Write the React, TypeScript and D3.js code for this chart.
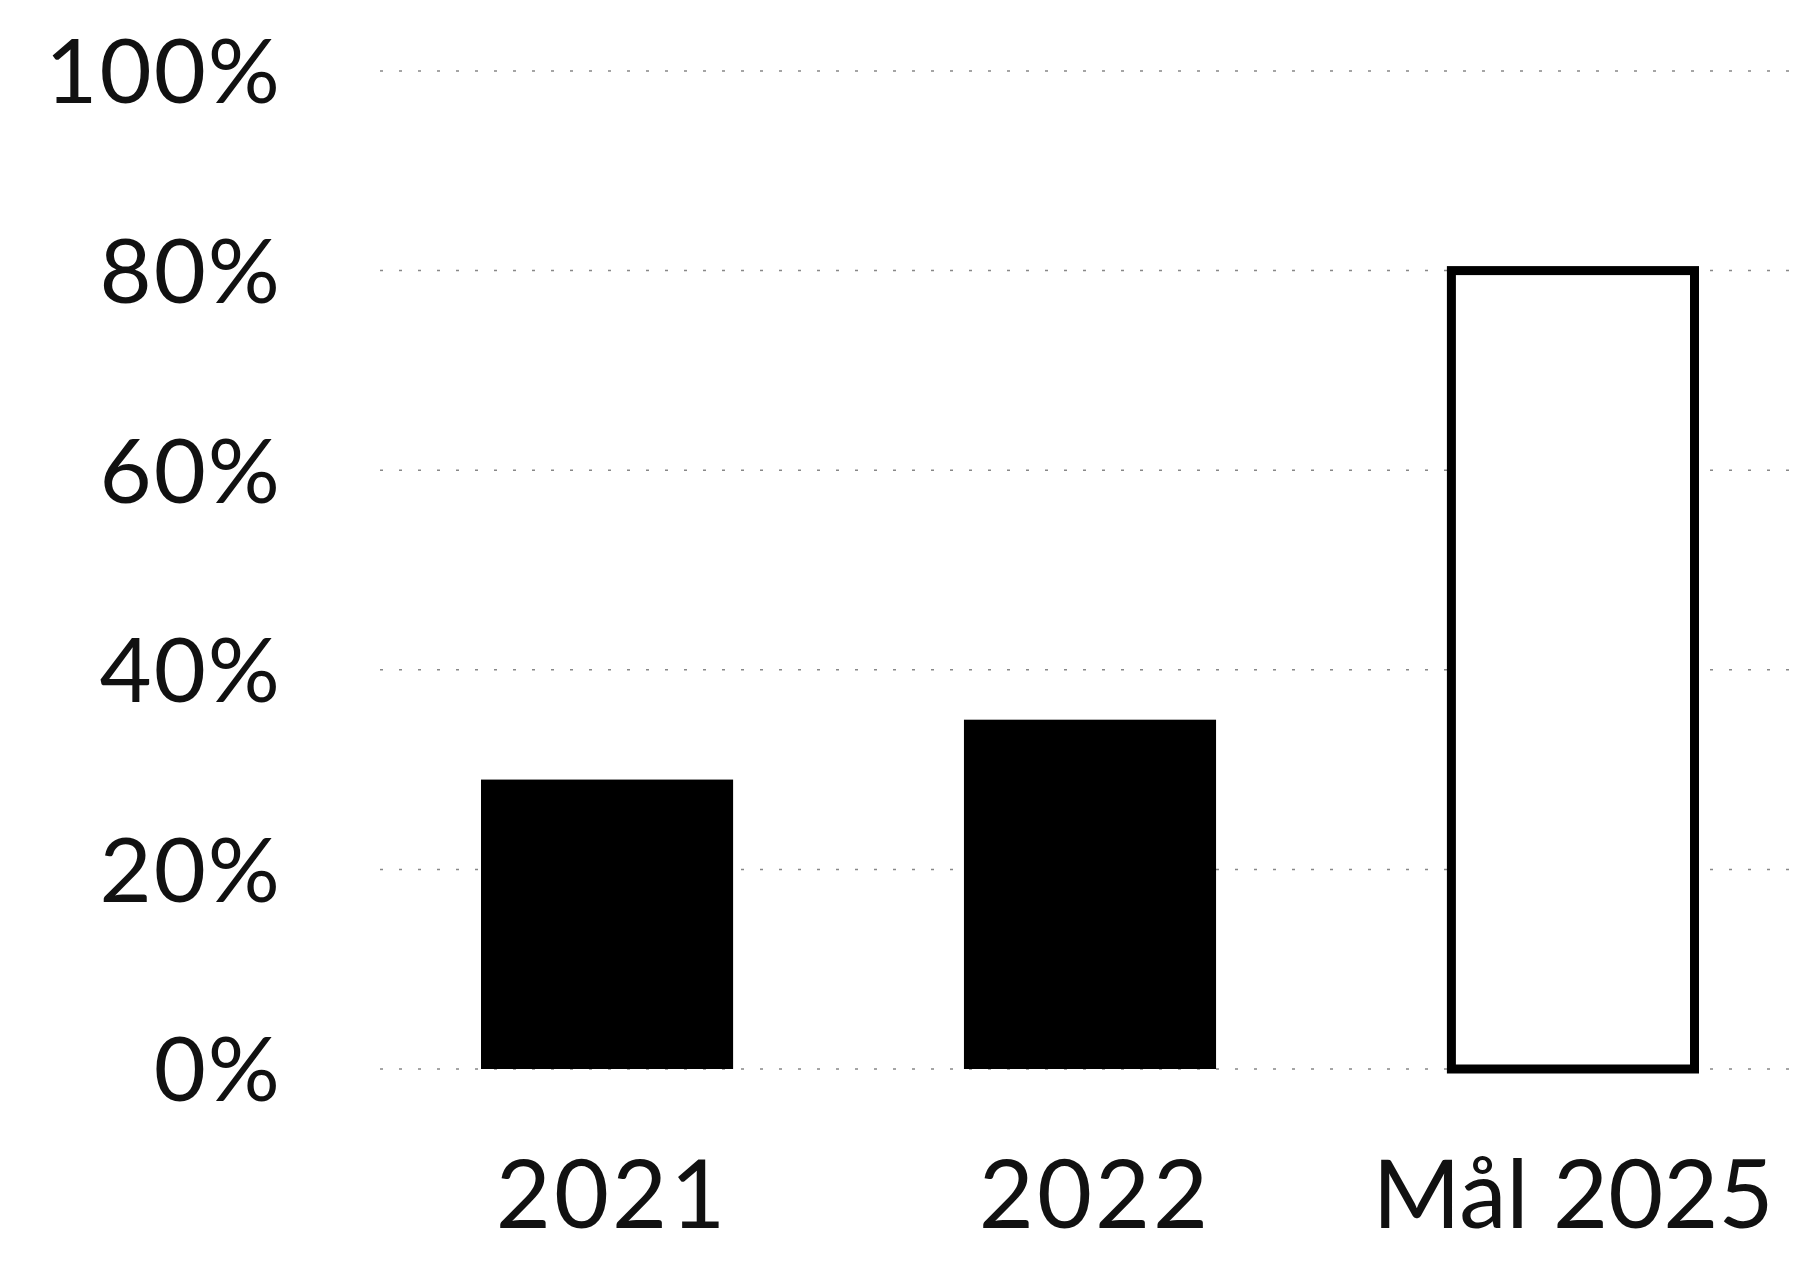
import React from "react";
import * as d3 from "d3";

const categories = ["2021", "2022", "Mål 2025"];
const values = [0.29, 0.35, 0.8];
const isTarget = [false, false, true];
const yTicks = [0, 0.2, 0.4, 0.6, 0.8, 1.0];

const W = 1803;
const H = 1262;

export default function App() {
  const x = d3
    .scaleBand<string>()
    .domain(categories)
    .range([481, 1699])
    .paddingInner(0.478)
    .paddingOuter(0);
  const y = d3.scaleLinear().domain([0, 1]).range([1069, 71]);
  const fmt = d3.format(".0%");
  const font = "Lato, 'Noto Sans', sans-serif";

  return (
    <svg
      width={W}
      height={H}
      style={{ position: "absolute", left: 0, top: 0, background: "#fff" }}
      fontFamily={font}
    >
      <rect x={0} y={0} width={W} height={H} fill="#fff" />
      {yTicks.map((t) => (
        <g key={t}>
          <line
            x1={380}
            x2={W}
            y1={y(t)}
            y2={y(t)}
            stroke="#888"
            strokeWidth={1.5}
            strokeDasharray="3,16"
          />
          <text
            x={282}
            y={y(t)}
            dy="0.36em"
            textAnchor="end"
            fontSize={90}
            letterSpacing={2}
            fill="#111"
          >
            {fmt(t)}
          </text>
        </g>
      ))}
      {categories.map((c, i) =>
        isTarget[i] ? (
          <rect
            key={c}
            x={(x(c) as number) + 4.5}
            y={y(values[i])}
            width={x.bandwidth() - 9}
            height={y(0) - y(values[i])}
            fill="#fff"
            stroke="#000"
            strokeWidth={9}
          />
        ) : (
          <rect
            key={c}
            x={x(c) as number}
            y={y(values[i])}
            width={x.bandwidth()}
            height={y(0) - y(values[i])}
            fill="#000"
          />
        )
      )}
      {categories.map((c, i) => (
        <text
          key={c}
          x={(x(c) as number) + x.bandwidth() / 2 + (isTarget[i] ? 0 : 5)}
          y={1228}
          textAnchor="middle"
          fontSize={95}
          letterSpacing={isTarget[i] ? 0 : 3}
          fill="#111"
        >
          {c}
        </text>
      ))}
    </svg>
  );
}
